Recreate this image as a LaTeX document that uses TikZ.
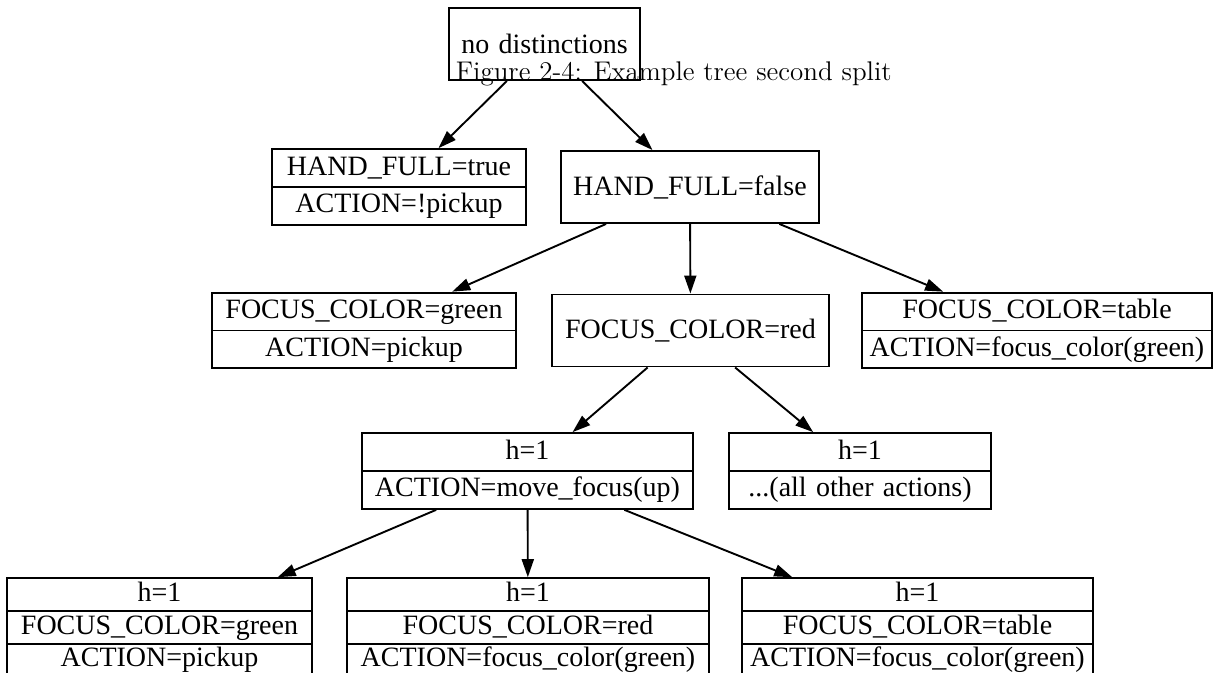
\documentclass[tikz,border=0pt]{standalone}
\usepackage{fontspec}
\usepackage{tikz}
\usetikzlibrary{shapes.multipart,arrows.meta}
\newfontfamily\boxfont{Liberation Serif}
\newcommand{\rowa}{\rule[-5.5pt]{0pt}{18pt}}
\newcommand{\rowb}{\rule[-4.5pt]{0pt}{15.5pt}}

\begin{document}
\begin{tikzpicture}[x=0.5pt,y=-0.5pt,>={Triangle[length=9pt,width=6pt]},
  line width=0.95pt,
  box node/.style={draw,rectangle,inner sep=0pt,minimum height=36pt,
    align=center,font=\boxfont\fontsize{14}{17}\selectfont},
  split node/.style={box node,rectangle split,rectangle split parts=#1,
    minimum height=0pt}]

  \useasboundingbox (0,0) rectangle (1214,673);

  \node[anchor=base west,inner sep=0pt,font=\fontsize{13.5}{16}\selectfont]
    (caption) at (455,81) {Figure 2-4: Example tree second split};

  \node[box node,text width=95.5pt] (1) at (544.5,44) {no distinctions};
  \node[split node=2,text width=127pt] (2) at (399,187)
    {\rowa HAND\_FULL=true \nodepart{two}\rowa ACTION=!pickup};
  \node[box node,text width=129pt] (3) at (690,187) {HAND\_FULL=false};
  \node[split node=2,text width=152pt] (4) at (364,330.5)
    {\rowa FOCUS\_COLOR=green \nodepart{two}\rowa ACTION=pickup};
  \node[box node,text width=138.5pt] (5) at (690.5,330.5) {FOCUS\_COLOR=red};
  \node[split node=2,text width=175pt] (6) at (1037,330.5)
    {\rowa FOCUS\_COLOR=table \nodepart{two}\rowa ACTION=focus\_color(green)};
  \node[split node=2,text width=165.5pt] (7) at (527.5,471)
    {\rowa h=1 \nodepart{two}\rowa ACTION=move\_focus(up)};
  \node[split node=2,text width=131pt] (8) at (860,471)
    {\rowa h=1 \nodepart{two}\rowa ...(all other actions)};
  \node[split node=3,text width=152.5pt] (9) at (159.5,627.5)
    {\rowb h=1 \nodepart{two}\rowb FOCUS\_COLOR=green
     \nodepart{three}\rowb ACTION=pickup};
  \node[split node=3,text width=181pt] (10) at (528,627.5)
    {\rowb h=1 \nodepart{two}\rowb FOCUS\_COLOR=red
     \nodepart{three}\rowb ACTION=focus\_color(green)};
  \node[split node=3,text width=175.5pt] (11) at (917.5,627.5)
    {\rowb h=1 \nodepart{two}\rowb FOCUS\_COLOR=table
     \nodepart{three}\rowb ACTION=focus\_color(green)};

  \path[->]
    (1) edge (2)
        edge (3)
    (3) edge (4)
        edge (5)
        edge (6)
    (5) edge (7)
        edge (8)
    (7) edge (9)
        edge (10)
        edge (11);
\end{tikzpicture}
\end{document}
